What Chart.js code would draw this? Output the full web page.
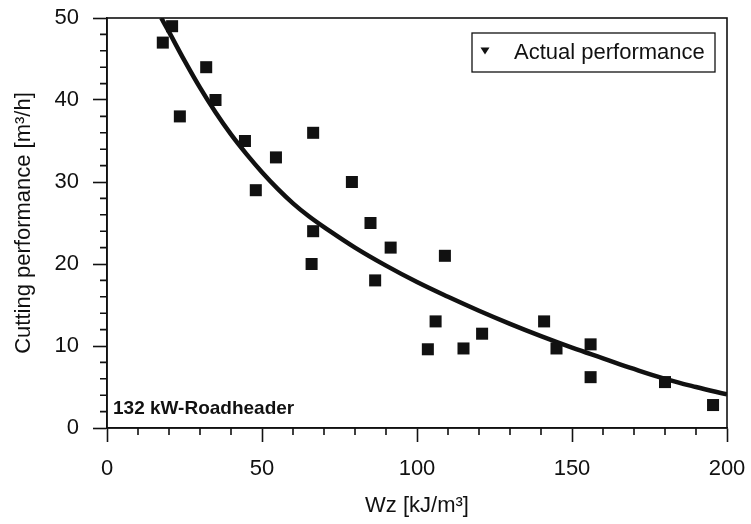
<!DOCTYPE html>
<html>
<head>
<meta charset="utf-8">
<script src="https://cdn.jsdelivr.net/npm/chart.js@4"></script>
<style>
  html, body { margin: 0; padding: 0; background: #fff; }
  #wrap { width: 751px; height: 524px; position: relative; }
</style>
</head>
<body>
<div id="wrap"><canvas id="cvs"></canvas></div>
<script>
// Измеренные точки (Wz, кДж/м³ -> производительность, м³/ч)
const wzPoints   = [18, 21, 23.5, 32, 35, 44.5, 48, 54.5, 66.5, 66.5, 66, 79, 85, 86.5, 91.5, 109, 106, 103.5, 115, 121, 141, 145, 156, 156, 180, 195.5];
const perfPoints = [47, 49, 38, 44, 40, 35, 29, 33, 36, 24, 20, 30, 25, 18, 22, 21, 13, 9.6, 9.7, 11.5, 13, 9.7, 10.2, 6.2, 5.6, 2.8];

// Кривая аппроксимации
const fitWz   = [17.5, 20, 25, 30, 35, 40, 45, 50, 55, 60, 65, 70, 80, 90, 100, 110, 120, 130, 140, 150, 160, 170, 180, 190, 200];
const fitPerf = [50, 48.3, 44.8, 41.5, 38.5, 35.8, 33.4, 31.2, 29.2, 27.4, 25.85, 24.5, 22.0, 19.8, 17.8, 16.0, 14.3, 12.7, 11.2, 9.8, 8.5, 7.2, 6.0, 5.0, 4.1];

const X_TICKS_STEP = 50, X_MINOR_STEP = 10;
const Y_TICKS_STEP = 10, Y_MINOR_STEP = 2;
const INK = '#111';
const FONT = '"Liberation Sans", Arial, sans-serif';

// второстепенные засечки + рамка + легенда + подпись машины
const decor = {
  id: 'decor',
  afterDraw(chart) {
    const { ctx, chartArea: a, scales: { x, y } } = chart;
    ctx.save();
    ctx.strokeStyle = INK; ctx.lineWidth = 1.6;
    ctx.strokeRect(a.left, a.top, a.right - a.left, a.bottom - a.top);
    ctx.beginPath();
    for (let v = x.min; v <= x.max; v += X_MINOR_STEP) {
      if (v % X_TICKS_STEP === 0) continue;
      const px = x.getPixelForValue(v);
      ctx.moveTo(px, a.bottom); ctx.lineTo(px, a.bottom + 7);
    }
    for (let v = y.min; v <= y.max; v += Y_MINOR_STEP) {
      if (v % Y_TICKS_STEP === 0) continue;
      const py = y.getPixelForValue(v);
      ctx.moveTo(a.left, py); ctx.lineTo(a.left - 7, py);
    }
    ctx.stroke();

    // легенда в рамке, правый верхний угол
    const bx = a.right - 255, by = a.top + 15, bw = 243, bh = 39;
    ctx.lineWidth = 1.3;
    ctx.strokeRect(bx, by, bw, bh);
    const sx = bx + 13, sy = by + bh / 2 - 2;
    ctx.fillStyle = INK;
    ctx.beginPath();
    ctx.moveTo(sx - 4.5, sy - 3); ctx.lineTo(sx + 4.5, sy - 3); ctx.lineTo(sx, sy + 4); ctx.closePath();
    ctx.fill();
    ctx.font = '22px ' + FONT;
    ctx.textAlign = 'left'; ctx.textBaseline = 'middle';
    ctx.fillText(chart.data.datasets[0].label, bx + 42, by + bh / 2);

    ctx.font = 'bold 19px ' + FONT;
    ctx.textBaseline = 'alphabetic';
    ctx.fillText('132 kW-Roadheader', a.left + 6, a.bottom - 14);
    ctx.restore();
  },
};

new Chart(document.getElementById('cvs'), {
  data: {
    datasets: [
      {
        type: 'scatter', label: 'Actual performance',
        data: wzPoints.map((w, i) => ({ x: w, y: perfPoints[i] })),
        pointStyle: 'rect', pointRadius: 8.5, pointHoverRadius: 8.5,
        backgroundColor: INK, borderColor: INK, borderWidth: 0, order: 1,
      },
      {
        type: 'line', label: 'fit',
        data: fitWz.map((w, i) => ({ x: w, y: fitPerf[i] })),
        borderColor: INK, borderWidth: 4.5, pointRadius: 0, fill: false,
        tension: 0.4, order: 2,
      },
    ],
  },
  options: {
    responsive: true, maintainAspectRatio: false, animation: false,
    layout: { padding: { top: 18, right: 24, left: 0, bottom: 0 } },
    plugins: {
      tooltip: { enabled: false },
      legend: { display: false },
    },
    scales: {
      x: {
        type: 'linear', min: 0, max: 200,
        afterFit: (s) => { s.height = 96; s.paddingLeft = 0; s.paddingRight = 0; },
        border: { color: INK, width: 1.6 },
        grid: { drawOnChartArea: false, drawTicks: true, tickLength: 14, tickColor: INK, tickWidth: 1.6 },
        ticks: { stepSize: X_TICKS_STEP, color: INK, font: { family: FONT, size: 22 }, padding: 14, maxRotation: 0 },
        title: { display: true, text: 'Wz [kJ/m³]', color: INK, font: { family: FONT, size: 22 }, padding: { top: 0, bottom: 5 } },
      },
      y: {
        type: 'linear', min: 0, max: 50,
        afterFit: (s) => { s.width = 107; s.paddingTop = 0; s.paddingBottom = 0; },
        border: { color: INK, width: 1.6 },
        grid: { drawOnChartArea: false, drawTicks: true, tickLength: 14, tickColor: INK, tickWidth: 1.6 },
        ticks: { stepSize: Y_TICKS_STEP, color: INK, font: { family: FONT, size: 22 }, padding: 14 },
        title: { display: true, text: 'Cutting performance [m³/h]', color: INK, font: { family: FONT, size: 22 }, padding: { top: 11, bottom: 0 } },
      },
    },
  },
  plugins: [decor],
});
</script>
</body>
</html>
